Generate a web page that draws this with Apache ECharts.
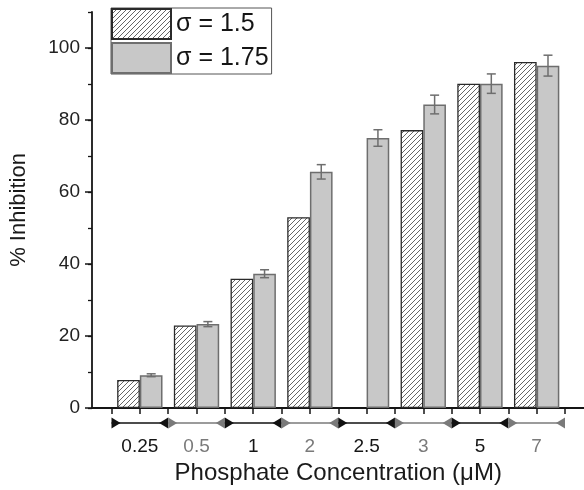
<!DOCTYPE html>
<html>
<head>
<meta charset="utf-8">
<script src="https://cdn.jsdelivr.net/npm/echarts@6/dist/echarts.min.js"></script>
<style>
  html, body { margin: 0; padding: 0; background: #fff; }
  #chart { width: 584px; height: 490px; }
</style>
</head>
<body>
<div id="chart"></div>
<script>
// ---- data ----
const categories = ['0.25', '0.5', '1', '2', '2.5', '3', '5', '7'];
const sigma15 = [7.8, 22.9, 35.9, 53.0, null, 77.2, 90.1, 96.1];
const sigma175 = [9.1, 23.3, 37.3, 65.6, 75.0, 84.3, 90.1, 95.1];
const err175 = [0.4, 0.7, 1.1, 2.0, 2.3, 2.6, 2.7, 2.9];
const yLabelValues = [0, 20, 40, 60, 80, 100];
const seriesNames = ['σ = 1.5', 'σ = 1.75'];

// ---- styles ----
const FONT = '"Liberation Sans", Arial, sans-serif';
const BLACK = '#151515';
const GRAY = '#7a7a7a';

function hatchPattern() {
  const s = 5;
  const c = document.createElement('canvas');
  c.width = s; c.height = s;
  const ctx = c.getContext('2d');
  ctx.fillStyle = '#ffffff';
  ctx.fillRect(0, 0, s, s);
  ctx.strokeStyle = '#555555';
  ctx.lineWidth = 0.9;
  ctx.beginPath();
  ctx.moveTo(0, s); ctx.lineTo(s, 0);
  ctx.moveTo(-1, 1); ctx.lineTo(1, -1);
  ctx.moveTo(s - 1, s + 1); ctx.lineTo(s + 1, s - 1);
  ctx.stroke();
  return c;
}

const errData = categories.map((c, i) => [i, sigma175[i] - err175[i], sigma175[i] + err175[i]]);
const arrowData = categories.map((c, i) => [i, 0]);

const chart = echarts.init(document.getElementById('chart'), null, { renderer: 'canvas' });

const option = {
  backgroundColor: '#ffffff',
  animation: false,
  textStyle: { fontFamily: FONT },
  legend: {
    data: seriesNames,
    icon: 'rect',
    orient: 'vertical',
    left: 111,
    top: 8,
    itemWidth: 59,
    itemHeight: 30,
    itemGap: 2,
    padding: [0, 3, 0, 0],
    borderColor: '#555',
    borderWidth: 1,
    backgroundColor: '#fff',
    textStyle: { fontSize: 25, color: BLACK, fontFamily: FONT },
    selectedMode: false
  },
  grid: [
    { left: 91, right: 0, top: 12, bottom: 82 },
    { left: 111.5, width: 453.5, top: 12, bottom: 82 }
  ],
  xAxis: [
    {
      gridIndex: 0, type: 'value', min: 0, max: 1, position: 'bottom',
      axisLine: { show: true, onZero: false, lineStyle: { color: BLACK, width: 1.8 } },
      axisTick: { show: false }, axisLabel: { show: false }, splitLine: { show: false }
    },
    {
      gridIndex: 1, type: 'category', data: categories, position: 'bottom',
      axisLine: { show: false, onZero: false }, axisTick: { show: false },
      axisLabel: {
        interval: 0,
        margin: 29, fontSize: 19, fontFamily: FONT,
        formatter: (v, i) => (i % 2 === 0 ? '{b|' + v + '}' : '{g|' + v + '}'),
        rich: {
          b: { color: BLACK, fontSize: 19, fontFamily: FONT },
          g: { color: GRAY, fontSize: 19, fontFamily: FONT }
        }
      },
      name: 'Phosphate Concentration (μM)',
      nameLocation: 'middle', nameGap: 52,
      nameTextStyle: { fontSize: 24, color: '#1a1a1a', fontFamily: FONT }
    },
    {
      gridIndex: 1, type: 'value', min: -0.5, max: 7.5, interval: 0.5, position: 'bottom',
      axisLine: { show: false, onZero: false },
      axisTick: { show: true, length: 6, lineStyle: { color: BLACK, width: 1.5 } },
      axisLabel: { show: false }, splitLine: { show: false }
    }
  ],
  yAxis: [
    {
      gridIndex: 0, type: 'value', min: 0, max: 110, interval: 10, position: 'left',
      axisLine: { show: true, onZero: false, lineStyle: { color: BLACK, width: 1.8 } },
      axisTick: { show: true, length: 4, lineStyle: { color: BLACK, width: 1.3 } },
      axisLabel: {
        customValues: yLabelValues,
        margin: 12, fontSize: 19, color: '#222', fontFamily: FONT
      },
      splitLine: { show: false },
      name: '% Inhibition', nameLocation: 'middle', nameGap: 62,
      nameTextStyle: { fontSize: 22, color: '#1a1a1a', fontFamily: FONT }
    },
    {
      gridIndex: 0, type: 'value', min: 0, max: 110, position: 'left',
      axisLine: { show: false, onZero: false },
      axisTick: { show: true, customValues: yLabelValues, length: 7, lineStyle: { color: BLACK, width: 1.5 } },
      axisLabel: { show: false }, splitLine: { show: false }
    },
    {
      gridIndex: 1, type: 'value', min: 0, max: 110, show: false
    }
  ],
  series: [
    {
      name: seriesNames[0], type: 'bar', xAxisIndex: 1, yAxisIndex: 2,
      data: sigma15, barGap: '0%', barCategoryGap: '20%',
      itemStyle: { color: { image: hatchPattern(), repeat: 'repeat' }, borderColor: '#2a2a2a', borderWidth: 1.3 }
    },
    {
      name: seriesNames[1], type: 'bar', xAxisIndex: 1, yAxisIndex: 2,
      data: sigma175, barGap: '0%', barCategoryGap: '20%',
      itemStyle: { color: '#c8c8c8', borderColor: '#6e6e6e', borderWidth: 1.5 }
    },
    {
      type: 'custom', xAxisIndex: 1, yAxisIndex: 2, data: errData,
      encode: { x: 0, y: [1, 2] }, z: 5, silent: true,
      renderItem: function (params, api) {
        const i = api.value(0);
        const lo = api.coord([i, api.value(1)]);
        const hi = api.coord([i, api.value(2)]);
        const w = api.size([1, 0])[0];
        const x = lo[0] + w * 0.2;
        const cap = 4.5;
        const st = { stroke: '#6e6e6e', lineWidth: 1.5, fill: null };
        return {
          type: 'group',
          children: [
            { type: 'line', shape: { x1: x, y1: lo[1], x2: x, y2: hi[1] }, style: st },
            { type: 'line', shape: { x1: x - cap, y1: lo[1], x2: x + cap, y2: lo[1] }, style: st },
            { type: 'line', shape: { x1: x - cap, y1: hi[1], x2: x + cap, y2: hi[1] }, style: st }
          ]
        };
      }
    },
    {
      type: 'custom', xAxisIndex: 1, yAxisIndex: 2, data: arrowData,
      encode: { x: 0, y: 1 }, clip: false, silent: true, z: 5,
      renderItem: function (params, api) {
        const i = api.value(0);
        const c = api.coord([i, 0]);
        const w = api.size([1, 0])[0];
        const x0 = c[0] - w / 2, x1 = c[0] + w / 2, y = c[1] + 15;
        const col = i % 2 === 0 ? '#111111' : '#7a7a7a';
        const tw = 9, th = 5.5;
        return {
          type: 'group',
          children: [
            { type: 'line', shape: { x1: x0, y1: y, x2: x1, y2: y }, style: { stroke: col, lineWidth: 1.5 } },
            { type: 'polygon', shape: { points: [[x0, y - th], [x0, y + th], [x0 + tw, y]] }, style: { fill: col } },
            { type: 'polygon', shape: { points: [[x1, y - th], [x1, y + th], [x1 - tw, y]] }, style: { fill: col } }
          ]
        };
      }
    }
  ]
};

chart.setOption(option);
</script>
</body>
</html>
